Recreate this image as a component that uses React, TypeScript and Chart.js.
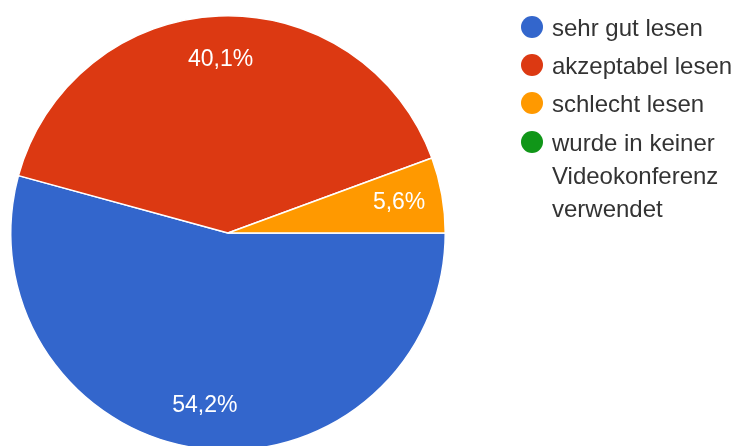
import React, { useEffect, useRef } from "react";
import { Chart, registerables } from "chart.js";

Chart.register(...registerables);

const categories = [
  "sehr gut lesen",
  "akzeptabel lesen",
  "schlecht lesen",
  "wurde in keiner Videokonferenz verwendet",
];
const legendLines = [
  ["sehr gut lesen"],
  ["akzeptabel lesen"],
  ["schlecht lesen"],
  ["wurde in keiner", "Videokonferenz", "verwendet"],
];
const shares = [54.2, 40.1, 5.6, 0];
const colors = ["#3366cc", "#dc3912", "#ff9900", "#109618"];

const FONT = "'Liberation Sans', Arial, sans-serif";

const sliceLabels = {
  id: "sliceLabels",
  afterDatasetsDraw(chart: any) {
    const ctx = chart.ctx;
    const meta = chart.getDatasetMeta(0);
    const data = chart.data.datasets[0].data as number[];
    ctx.save();
    ctx.fillStyle = "#ffffff";
    ctx.font = `23px ${FONT}`;
    ctx.textAlign = "center";
    ctx.textBaseline = "middle";
    meta.data.forEach((arc: any, i: number) => {
      const v = data[i];
      if (!v) return;
      const p = arc.getProps(["x", "y", "startAngle", "endAngle", "outerRadius"], true);
      const mid = (p.startAngle + p.endAngle) / 2;
      const r = p.outerRadius * 0.8;
      const x = p.x + Math.cos(mid) * r;
      const y = p.y + Math.sin(mid) * r;
      ctx.fillText(v.toFixed(1).replace(".", ",") + "%", x, y);
    });
    ctx.restore();
  },
};

export default function App() {
  const ref = useRef<HTMLCanvasElement | null>(null);

  useEffect(() => {
    if (!ref.current) return;
    const chart = new Chart(ref.current, {
      type: "pie",
      data: {
        labels: categories,
        datasets: [
          {
            data: shares,
            backgroundColor: colors,
            borderColor: "#ffffff",
            borderWidth: 1.5,
          },
        ],
      },
      options: {
        responsive: false,
        animation: false,
        rotation: 90,
        layout: { padding: { left: 10, top: 15, right: 294, bottom: 19 } },
        plugins: {
          legend: { display: false },
          tooltip: { enabled: false },
        },
      },
      plugins: [sliceLabels],
    });
    return () => chart.destroy();
  }, []);

  const rowCenters = [27, 65, 103, 142];

  return (
    <div
      style={{
        position: "fixed",
        left: 0,
        top: 0,
        width: 740,
        height: 446,
        overflow: "hidden",
        background: "#ffffff",
        fontFamily: FONT,
      }}
    >
      <canvas ref={ref} width={740} height={470} style={{ position: "absolute", left: 0, top: 0 }} />
      {legendLines.map((lines, i) => (
        <React.Fragment key={i}>
          <div
            style={{
              position: "absolute",
              left: 532 - 11,
              top: rowCenters[i] - 11,
              width: 22,
              height: 22,
              borderRadius: "50%",
              background: colors[i],
            }}
          />
          <div
            style={{
              position: "absolute",
              left: 552,
              top: rowCenters[i] - 16.5,
              fontSize: 24,
              lineHeight: "33px",
              color: "#333333",
              whiteSpace: "nowrap",
            }}
          >
            {lines.map((l, j) => (
              <div key={j}>{l}</div>
            ))}
          </div>
        </React.Fragment>
      ))}
    </div>
  );
}
